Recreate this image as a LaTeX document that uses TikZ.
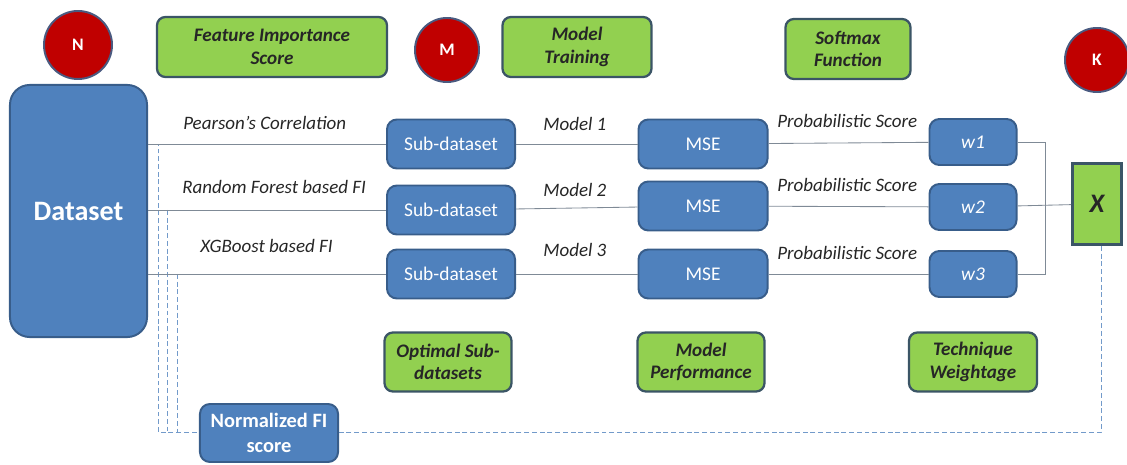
\documentclass[tikz,border=0pt]{standalone}
\usepackage{fontspec}
\setmainfont{Carlito}
\usetikzlibrary{positioning,calc}

\definecolor{boxblue}{HTML}{4F81BD}
\definecolor{blueline}{HTML}{385D8A}
\definecolor{boxgreen}{HTML}{92D050}
\definecolor{greenline}{HTML}{3B5566}
\definecolor{circred}{HTML}{C00000}
\definecolor{circline}{HTML}{4A5A80}
\definecolor{wire}{HTML}{7F8A96}
\definecolor{labeltext}{HTML}{262626}

\begin{document}
\begin{tikzpicture}[x=0.025cm,y=-0.025cm,
    blue node/.style={rectangle,rounded corners=7pt,draw=blueline,line width=1.4pt,fill=boxblue,
      text=white,font=\fontsize{13.8}{16}\selectfont,minimum height=1.225cm,inner sep=2pt},
    green node/.style={rectangle,rounded corners=6pt,draw=greenline,line width=1.6pt,fill=boxgreen,
      text=black!85,font=\fontsize{13.6}{16}\selectfont\bfseries\itshape,align=center,
      minimum height=1.5cm,inner sep=2pt},
    red node/.style={circle,draw=circline,line width=1.4pt,fill=circred,text=white,
      font=\fontsize{12.5}{14}\selectfont\bfseries,minimum size=1.6cm,inner sep=0pt},
    label node/.style={anchor=west,inner sep=0pt,text=labeltext,font=\fontsize{13.5}{15}\selectfont\itshape},
    wire line/.style={draw=wire,line width=0.6pt},
    dash line/.style={draw=boxblue!80,line width=0.6pt,dash pattern=on 3.5pt off 2pt}]

  \useasboundingbox (0,0) rectangle (1127,465);

  % top row
  \node[red node,minimum size=1.7cm] (N) at (78,45) {N};
  \node[green node,minimum width=5.75cm] (fis) at (272,47) {Feature Importance\\Score};
  \node[red node] (M) at (447,50) {M};
  \node[green node,minimum width=3.725cm] (train) at (577,47) {Model\\Training};
  \node[green node,minimum width=3.125cm] (soft) at (848,49) {Softmax\\Function};
  \node[red node] (K) at (1097,60) {K};

  % dataset
  \node[blue node,rounded corners=14pt,minimum width=3.425cm,minimum height=6.3cm,
        font=\fontsize{20}{24}\selectfont\bfseries] (data) at (78.5,211) {Dataset};

  % sub-datasets
  \node[blue node,minimum width=3.2cm] (sub1) at (451,144) {Sub-dataset};
  \node[blue node,minimum width=3.2cm] (sub2) at (451,210) {Sub-dataset};
  \node[blue node,minimum width=3.2cm] (sub3) at (451,274) {Sub-dataset};

  % model errors
  \node[blue node,minimum width=3.225cm] (mse1) at (703,144) {MSE};
  \node[blue node,minimum width=3.225cm] (mse2) at (703,206) {MSE};
  \node[blue node,minimum width=3.225cm] (mse3) at (703,274) {MSE};

  % weights
  \node[blue node,minimum width=2.175cm,minimum height=1.15cm,font=\fontsize{13.8}{16}\selectfont\itshape] (w1) at (973,142) {w1};
  \node[blue node,minimum width=2.175cm,minimum height=1.15cm,font=\fontsize{13.8}{16}\selectfont\itshape] (w2) at (973,207) {w2};
  \node[blue node,minimum width=2.175cm,minimum height=1.15cm,font=\fontsize{13.8}{16}\selectfont\itshape] (w3) at (973,274) {w3};

  \node[green node,rounded corners=0pt,line width=2pt,minimum width=1.225cm,minimum height=2.025cm,
        font=\fontsize{19}{21}\selectfont\bfseries\itshape] (X) at (1097,204) {X};

  % bottom row
  \node[green node,minimum width=3.175cm,minimum height=1.475cm] (opt) at (448,362) {Optimal Sub-\\datasets};
  \node[green node,minimum width=3.175cm,minimum height=1.475cm] (perf) at (701,362) {Model\\Performance};
  \node[green node,minimum width=3.2cm,minimum height=1.475cm] (tech) at (973,362) {Technique\\Weightage};

  % labels
  \node[label node] (lab1) at (183,123) {Pearson’s Correlation};
  \node[label node] (lab2) at (182,187) {Random Forest based FI};
  \node[label node] (lab3) at (200,246) {XGBoost based FI};
  \node[label node] (mod1) at (543,124) {Model 1};
  \node[label node] (mod2) at (543,190) {Model 2};
  \node[label node] (mod3) at (543,250) {Model 3};
  \node[label node] (prob1) at (777,121) {Probabilistic Score};
  \node[label node] (prob2) at (777,185) {Probabilistic Score};
  \node[label node] (prob3) at (777,253) {Probabilistic Score};

  % dashed feedback
  \coordinate (c1) at ($(data.east |- sub1.west)+(10,0)$);
  \coordinate (c2) at ($(data.east |- sub2.west)+(19,0)$);
  \coordinate (c3) at ($(data.east |- sub3.west)+(29,0)$);
  \coordinate (bot) at (1101,432);
  \draw[dash line] (X.south -| bot) -- (bot) -- (bot -| c1) -- (c1);
  \draw[dash line] (c2) -- (c2 |- bot);
  \draw[dash line] (c3) -- (c3 |- bot);

  \node[blue node,minimum width=3.45cm,minimum height=1.45cm,align=center,
        font=\fontsize{14.5}{18}\selectfont\bfseries] (norm) at (269,433) {Normalized FI\\score};

  % connectors
  \draw[wire line] (data.east |- sub1.west) -- (sub1.west);
  \draw[wire line] (data.east |- sub2.west) -- (sub2.west);
  \draw[wire line] (data.east |- sub3.west) -- (sub3.west);
  \draw[wire line] (sub1) -- (mse1);
  \draw[wire line] (sub2) -- (mse2);
  \draw[wire line] (sub3) -- (mse3);
  \draw[wire line] (mse1) -- (w1);
  \draw[wire line] (mse2) -- (w2);
  \draw[wire line] (mse3) -- (w3);
  \coordinate (join) at ($(w1.east)+(28,0)$);
  \draw[wire line] (w1.east) -- (join) -- (join |- w3.east) -- (w3.east);
  \draw[wire line] (w2) -- (X);

\end{tikzpicture}
\end{document}
